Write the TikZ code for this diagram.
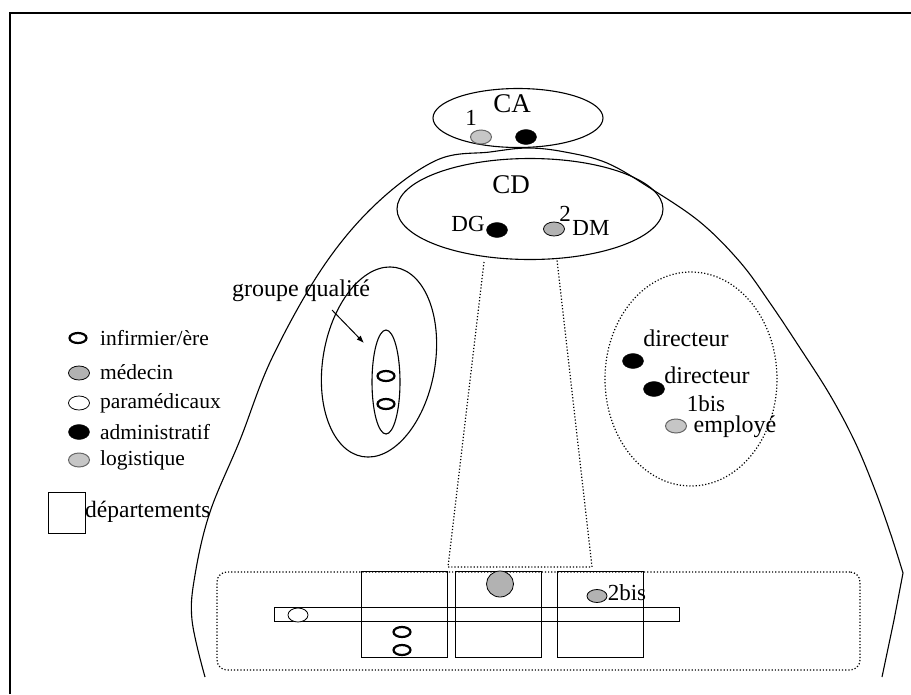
\documentclass[tikz,border=0pt]{standalone}
\usepackage{fontspec}
\setmainfont{Liberation Serif}
\usetikzlibrary{arrows.meta,shapes.geometric}

\begin{document}
\begin{tikzpicture}[x=1pt,y=-1pt,>=Latex,
  zone/.style={draw,ellipse,line width=1.1pt,inner sep=0pt},
  dzone/.style={draw,ellipse,dotted,line width=1.2pt,inner sep=0pt},
  dept/.style={draw,line width=1pt,minimum width=86,minimum height=86,inner sep=0pt},
  inf/.style={draw,ellipse,line width=2.2pt,fill=white,minimum width=17,minimum height=10,inner sep=0pt},
  med/.style={draw,ellipse,line width=0.8pt,fill=gray!60,minimum width=21,minimum height=14,inner sep=0pt},
  para/.style={draw,ellipse,line width=0.8pt,fill=white,minimum width=21,minimum height=14,inner sep=0pt},
  adm/.style={draw,ellipse,fill=black,minimum width=21,minimum height=15,inner sep=0pt},
  logi/.style={draw=gray!80!black,ellipse,line width=1pt,fill=gray!45,minimum width=21,minimum height=14,inner sep=0pt},
  lab/.style={font=\fontsize{23}{26}\selectfont,inner sep=0pt},
  leg/.style={font=\fontsize{21.5}{24}\selectfont,inner sep=0pt,anchor=west},
  big/.style={font=\fontsize{27}{30}\selectfont,inner sep=0pt}]
\useasboundingbox (0,0) rectangle (911,694);
% cadre
\draw[line width=1.5pt] (10,694) -- (10,13) -- (911,13);

% l'hopital
\draw[line width=1.1pt] plot[smooth,tension=0.6] coordinates {(205,677) (192,620) (195,575) (210,512) (240,440) (272,358) (323,267) (377,203) (437,160) (490,152) (528,148) (565,152) (607,163) (650,188) (700,222) (740,262) (770,303) (800,348) (830,395) (855,442) (875,490) (891,535) (903,573)};
\draw[line width=1.1pt] (903,573) -- (894,620) -- (882,677);

% CA et CD
\node (ca) [zone,minimum width=170,minimum height=59] at (518,118) {};
\node (calbl) [big] at (512,104) {CA};
\node (un) [lab] at (471,118) {1};
\node (ca1) [logi] at (481,137) {};
\node (ca2) [adm] at (526,137) {};
\node (cd) [zone,minimum width=266,minimum height=101] at (530,209) {};
\node (cdlbl) [big] at (511,185) {CD};
\node (dg) [lab] at (468,224) {DG};
\node (dgdot) [adm] at (497,230) {};
\node (deux) [lab] at (565,214) {2};
\node (dmdot) [med] at (554,229) {};
\node (dm) [lab] at (591,228) {DM};

% groupe qualite
\node (gq) [zone,minimum width=112,minimum height=192,rotate=-10] at (379,362) {};
\node (gqin) [zone,minimum width=28,minimum height=104] at (386,382) {};
\node (gqa) [inf] at (386,376) {};
\node (gqb) [inf] at (386,404) {};
\node (gqlbl) [lab,font=\fontsize{24}{27}\selectfont] at (301,291) {groupe qualité};
\coordinate (arrs) at (332,310);
\coordinate (arre) at (364,343);
\draw[->,line width=1pt] (arrs) -- (arre);

% direction
\node (dir) [dzone,minimum width=172,minimum height=214] at (691,379) {};
\node (dir1) [lab,font=\fontsize{24}{27}\selectfont] at (686,338) {directeur};
\node (dir1dot) [adm] at (633,361) {};
\node (dir2) [lab,font=\fontsize{24}{27}\selectfont] at (707,375) {directeur};
\node (dir2dot) [adm] at (654,389) {};
\node (unbis) [lab] at (706,404) {1bis};
\node (emp) [lab,font=\fontsize{24}{27}\selectfont] at (735,427) {employé};
\node (empdot) [logi] at (676,426) {};

% departements
\node (zoomzone) [draw,dotted,line width=1.2pt,rounded corners=10,minimum width=643,minimum height=98,inner sep=0pt] at (538.5,621) {};
\coordinate (tl) at (484,262);
\coordinate (tr) at (557,260);
\coordinate (bl) at (448,567);
\coordinate (br) at (592,567);
\draw[dotted,line width=1.2pt] (tl) -- (bl) -- (br) -- (tr);
\node (d1) [dept] at (404,614) {};
\node (d2) [dept] at (498.5,614) {};
\node (d3) [dept] at (600,614) {};
\node (bar) [draw,line width=1pt,minimum width=405,minimum height=14,inner sep=0pt] at (476.5,614) {};
\node (bardot) [para,minimum width=20,minimum height=14] at (298,615) {};
\node (d1a) [inf] at (402,632) {};
\node (d1b) [inf] at (402,650) {};
\node (d2dot) [med,minimum width=27,minimum height=26] at (500,584) {};
\node (d3dot) [med,minimum width=20,minimum height=13] at (597,596) {};
\node (deuxbis) [lab] at (627,593) {2bis};

% legende
\node (linf) [inf] at (78,338) {};
\node (tinf) [leg] at (100,338) {infirmier/ère};
\node (lmed) [med] at (79,373) {};
\node (tmed) [leg] at (100,372) {médecin};
\node (lpara) [para] at (79,403) {};
\node (tpara) [leg] at (100,403) {paramédicaux};
\node (ladm) [adm] at (79,432) {};
\node (tadm) [leg] at (100,432) {administratif};
\node (llog) [logi] at (79,460) {};
\node (tlog) [leg] at (100,460) {logistique};
\node (ldep) [draw,line width=1pt,minimum width=37,minimum height=41,inner sep=0pt] at (66.5,512.5) {};
\node (tdep) [leg,font=\fontsize{23.5}{26}\selectfont] at (85,512) {départements};
\end{tikzpicture}
\end{document}
